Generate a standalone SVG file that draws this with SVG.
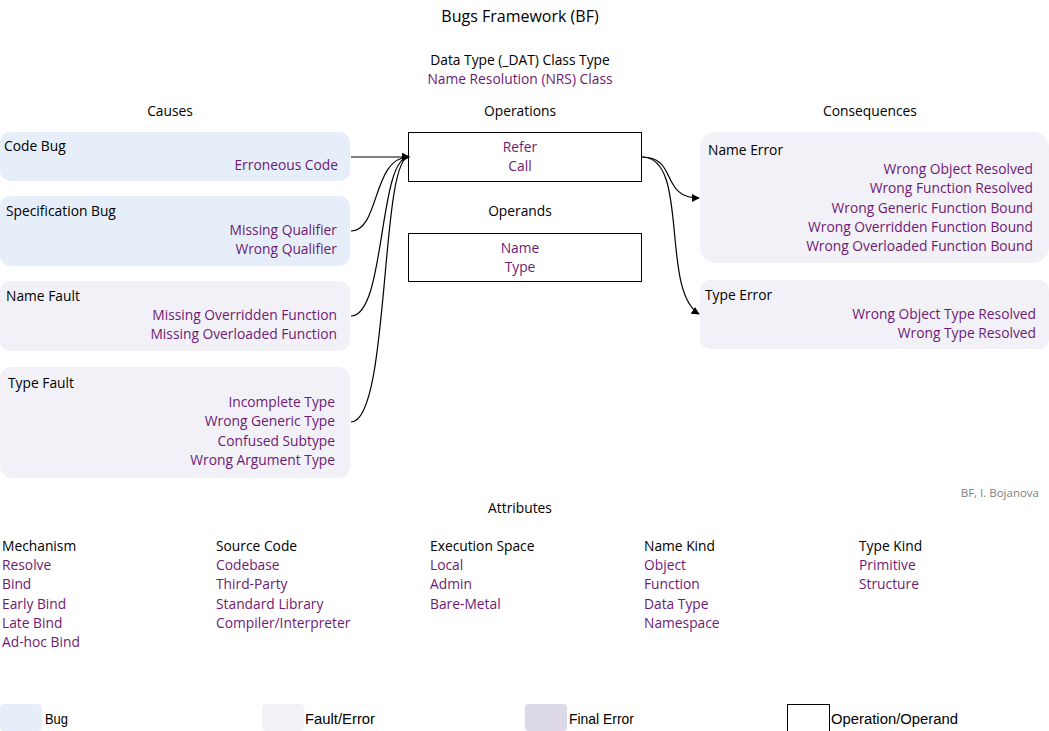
<svg xmlns="http://www.w3.org/2000/svg" width="1049" height="731" viewBox="0 0 1049 731">
<style>
text{font-family:"Open Sans","Noto Sans",sans-serif;font-size:13.8px;fill:#000}
.p{fill:#6e1a74}
.e{text-anchor:end}
.m{text-anchor:middle}
.bug{fill:#e6eefa}
.flt{fill:#f3f1f8}
.fin{fill:#dcd8e8}
.op{fill:#fff;stroke:#000;stroke-width:1}
.c{fill:none;stroke:#000;stroke-width:1.2}
.lg{font-family:"Liberation Sans Narrow","Liberation Sans",sans-serif;font-size:14px}
</style>
<defs>
<marker id="ah" viewBox="0 0 10 10" refX="9" refY="5" markerWidth="8" markerHeight="8" markerUnits="userSpaceOnUse" orient="auto">
<path d="M0,0 L10,5 L0,10 z" fill="#000"/>
</marker>
</defs>
<rect width="1049" height="731" fill="#fff"/>
<g id="header">
<text x="520" y="22" class="m" style="font-size:16px">Bugs Framework (BF)</text>
<text x="520" y="65" class="m">Data Type (_DAT) Class Type</text>
<text x="520" y="84" class="m p">Name Resolution (NRS) Class</text>
<text x="170" y="116" class="m">Causes</text>
<text x="520" y="116" class="m">Operations</text>
<text x="870" y="116" class="m">Consequences</text>
</g>
<g id="code-bug">
<rect x="0" y="132" width="350" height="49" rx="10" class="bug"/>
<text x="4" y="151">Code Bug</text>
<text x="338" y="170" class="e p">Erroneous Code</text>
</g>
<g id="specification-bug">
<rect x="0" y="196" width="350" height="70" rx="10" class="bug"/>
<text x="6" y="216">Specification Bug</text>
<text x="337" y="235" class="e p">Missing Qualifier</text>
<text x="337" y="254" class="e p">Wrong Qualifier</text>
</g>
<g id="name-fault">
<rect x="0" y="281" width="350" height="70" rx="10" class="flt"/>
<text x="6" y="301">Name Fault</text>
<text x="337" y="320" class="e p">Missing Overridden Function</text>
<text x="337" y="339" class="e p">Missing Overloaded Function</text>
</g>
<g id="type-fault">
<rect x="0" y="367" width="350" height="111" rx="12" class="flt"/>
<text x="8" y="388">Type Fault</text>
<text x="335" y="407" class="e p">Incomplete Type</text>
<text x="335" y="426" class="e p">Wrong Generic Type</text>
<text x="335" y="446" class="e p">Confused Subtype</text>
<text x="335" y="465" class="e p">Wrong Argument Type</text>
</g>
<g id="operations">
<rect x="408.5" y="132.5" width="233" height="49" class="op"/>
<text x="520" y="152" class="m p">Refer</text>
<text x="520" y="171" class="m p">Call</text>
</g>
<g id="operands">
<text x="520" y="216" class="m">Operands</text>
<rect x="408.5" y="233.5" width="233" height="48" class="op"/>
<text x="520" y="253" class="m p">Name</text>
<text x="520" y="272" class="m p">Type</text>
</g>
<g id="name-error">
<rect x="700" y="132" width="349" height="131" rx="16" class="flt"/>
<text x="708" y="155">Name Error</text>
<text x="1033" y="174" class="e p">Wrong Object Resolved</text>
<text x="1033" y="193" class="e p">Wrong Function Resolved</text>
<text x="1033" y="213" class="e p">Wrong Generic Function Bound</text>
<text x="1033" y="232" class="e p">Wrong Overridden Function Bound</text>
<text x="1033" y="251" class="e p">Wrong Overloaded Function Bound</text>
</g>
<g id="type-error">
<rect x="700" y="280" width="349" height="69" rx="10" class="flt"/>
<text x="705" y="300">Type Error</text>
<text x="1036" y="319" class="e p">Wrong Object Type Resolved</text>
<text x="1036" y="338" class="e p">Wrong Type Resolved</text>
</g>
<g id="connectors">
<path d="M351,157 L409,157" class="c" marker-end="url(#ah)"/>
<path d="M351,231 C380,231 372,157 409,157" class="c" marker-end="url(#ah)"/>
<path d="M351,316 C386,316 378,157 409,157" class="c" marker-end="url(#ah)"/>
<path d="M351,422 C390,422 380,157 409,157" class="c" marker-end="url(#ah)"/>
<path d="M642,157 C678,157 660,198 699,198" class="c" marker-end="url(#ah)"/>
<path d="M642,157 C690,157 660,290 699,314" class="c" marker-end="url(#ah)"/>
</g>
<g id="attributes">
<text x="1039" y="497" class="e" style="font-size:11.5px;fill:#808080">BF, I. Bojanova</text>
<text x="520" y="513" class="m">Attributes</text>
<text x="2" y="551">Mechanism</text>
<text x="2" y="570" class="p">Resolve</text>
<text x="2" y="589" class="p">Bind</text>
<text x="2" y="609" class="p">Early Bind</text>
<text x="2" y="628" class="p">Late Bind</text>
<text x="2" y="647" class="p">Ad-hoc Bind</text>
<text x="216" y="551">Source Code</text>
<text x="216" y="570" class="p">Codebase</text>
<text x="216" y="589" class="p">Third-Party</text>
<text x="216" y="609" class="p">Standard Library</text>
<text x="216" y="628" class="p">Compiler/Interpreter</text>
<text x="430" y="551">Execution Space</text>
<text x="430" y="570" class="p">Local</text>
<text x="430" y="589" class="p">Admin</text>
<text x="430" y="609" class="p">Bare-Metal</text>
<text x="644" y="551">Name Kind</text>
<text x="644" y="570" class="p">Object</text>
<text x="644" y="589" class="p">Function</text>
<text x="644" y="609" class="p">Data Type</text>
<text x="644" y="628" class="p">Namespace</text>
<text x="859" y="551">Type Kind</text>
<text x="859" y="570" class="p">Primitive</text>
<text x="859" y="589" class="p">Structure</text>
</g>
<g id="legend">
<rect x="0" y="704" width="42" height="27" rx="4" class="bug"/>
<text x="45" y="724" class="lg" textLength="23" lengthAdjust="spacingAndGlyphs">Bug</text>
<rect x="262" y="704" width="42" height="27" rx="4" class="flt"/>
<text x="305" y="724" class="lg" textLength="70" lengthAdjust="spacingAndGlyphs">Fault/Error</text>
<rect x="525" y="704" width="42" height="27" rx="4" class="fin"/>
<text x="569" y="724" class="lg" textLength="65" lengthAdjust="spacingAndGlyphs">Final Error</text>
<rect x="787.5" y="704.5" width="42" height="27" class="op"/>
<text x="831" y="724" class="lg" textLength="127" lengthAdjust="spacingAndGlyphs">Operation/Operand</text>
</g>
</svg>
